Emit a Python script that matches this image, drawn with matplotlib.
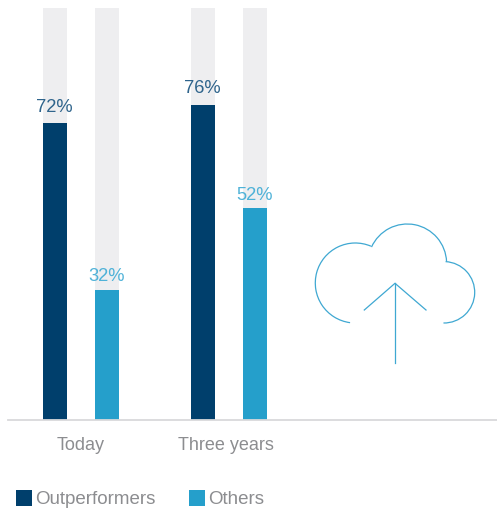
import numpy as np
import matplotlib
matplotlib.use("Agg")
import matplotlib.pyplot as plt
from matplotlib.patches import Arc, Rectangle

plt.rcParams["font.family"] = ["Liberation Sans", "DejaVu Sans"]

categories = ["Today", "Three years"]
series_names = ["Outperformers", "Others"]
# printed values
outperformers = [72, 76]
others = [32, 52]
# bar heights as drawn in the picture, slightly off the printed values
outperformers_height = [72, 76.4]
others_height = [31.4, 51.3]

W, H = 497, 508
DARK = "#003f6c"
BLUE = "#259fcb"
TRACK = "#eeeef0"
GREY = "#8c8d90"
ICON = "#3fa8d2"

fig = plt.figure(figsize=(W / 100, H / 100), dpi=100)

# pixel canvas for the icon and the legend, y counted upward
bg = fig.add_axes([0, 0, 1, 1])
bg.set_xlim(0, W)
bg.set_ylim(0, H)
bg.axis("off")

# bar area runs from x=8 to x=497, baseline y=419.5, 100% at y=8
ax = fig.add_axes([8 / W, (H - 419.5) / H, 489 / W, 411.5 / H])
ax.patch.set_alpha(0)
group_gap = 148.0
ax.set_xlim(-73 / group_gap, 416 / group_gap)
ax.set_ylim(0, 100)

x = np.arange(len(categories))
bar_w = 24 / group_gap
off = 26 / group_gap

ax.bar(x - off, [100] * len(x), bar_w, color=TRACK)
ax.bar(x + off, [100] * len(x), bar_w, color=TRACK)
ax.bar(x - off, outperformers_height, bar_w, color=DARK)
ax.bar(x + off, others_height, bar_w, color=BLUE)

for i in x:
    ax.annotate(f"{outperformers[i]}%", (i - off, outperformers_height[i]), xytext=(-0.3, 5.5),
                textcoords="offset points", ha="center", va="bottom",
                fontsize=13.2, color="#2f648c")
    ax.annotate(f"{others[i]}%", (i + off, others_height[i]), xytext=(-0.3, 3.5),
                textcoords="offset points", ha="center", va="bottom",
                fontsize=13.2, color="#4fb2d8")

for side in ["top", "left", "right"]:
    ax.spines[side].set_visible(False)
ax.spines["bottom"].set_color("#d9d9db")
ax.spines["bottom"].set_linewidth(1.3)
ax.set_yticks([])
# tick labels sit a little left of the group centres
ax.set_xticks(x - np.array([0.003, 0.024]))
ax.set_xticklabels(categories, fontsize=13, color=GREY)
ax.tick_params(axis="x", length=0, pad=12.5)

# legend
bg.add_patch(Rectangle((16, H - 506), 16, 16, color=DARK, lw=0))
bg.text(35, H - 499, series_names[0], fontsize=13.5, color=GREY, va="center")
bg.add_patch(Rectangle((189, H - 506), 16, 16, color=BLUE, lw=0))
bg.text(208.5, H - 499, series_names[1], fontsize=13.5, color=GREY, va="center")

# cloud icon
arcs = [
    (355.3, 283.0, 40.0, 67, 262.5),
    (407.3, 263.3, 39.3, 2.4, 155.6),
    (444.0, 292.3, 30.7, -91, 87),
]
for cx, cy, r, t1, t2 in arcs:
    bg.add_patch(Arc((cx, H - cy), 2 * r, 2 * r, theta1=t1, theta2=t2, color=ICON, lw=0.9))
bg.plot([364.3, 395, 426], [H - 310, H - 283.3, H - 310], color=ICON, lw=0.9)
bg.plot([395, 395], [H - 283.3, H - 362.7], color=ICON, lw=0.9)

fig.savefig("out.png", dpi=100)
